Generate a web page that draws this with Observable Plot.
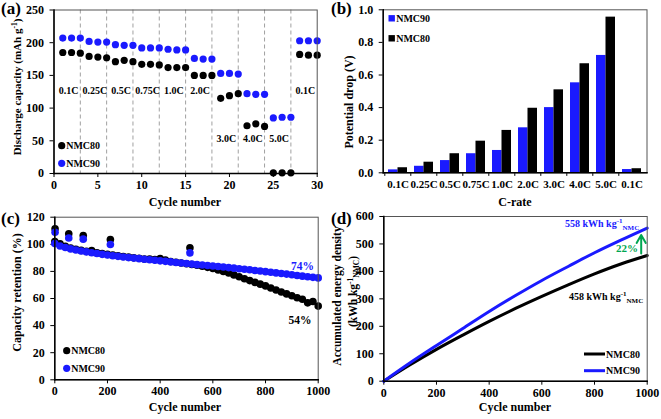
<!DOCTYPE html>
<html><head><meta charset="utf-8">
<script src="https://cdn.jsdelivr.net/npm/d3@7"></script>
<script src="https://cdn.jsdelivr.net/npm/@observablehq/plot@0.6"></script>
<style>
body{margin:0;background:#fff;}
#wrap{position:relative;width:661px;height:419px;overflow:hidden;background:#fff;}
#wrap > div{position:absolute;}
#wrap svg{overflow:visible;}
</style></head><body><div id="wrap"></div>
<script>
// ---------- (a) rate capability ----------
const cyclesA = [1,2,3,4,5,6,7,8,9,10,11,12,13,14,15,16,17,18,19,20,21,22,23,24,25,26,27,28,29,30];
const capNMC80 = [185,185,184,179,178,177,171,173,171,167,167,166,162,162,162,150,150,150,115,119,122,73,76,72,1,1,1,182,181,181];
const capNMC90 = [207,207,207,202,201,201,197,196,196,192,192,192,190,189,189,176,175,175,153,153,152,122,121,121,85,86,86,203,203,203];
const rateLabelsA = ["0.1C","0.25C","0.5C","0.75C","1.0C","2.0C","3.0C","4.0C","5.0C","0.1C"];
const rateStepEnds = [3,6,9,12,15,18,21,24,27];
const ticksAx = [0,5,10,15,20,25,30];
const ticksAy = [0,50,100,150,200,250];

// ---------- (b) potential drop ----------
const rateLabelsB = ["0.1C","0.25C","0.5C","0.75C","1.0C","2.0C","3.0C","4.0C","5.0C","0.1C"];
const dropNMC90 = [0.018,0.040,0.075,0.117,0.137,0.276,0.400,0.552,0.720,0.020];
const dropNMC80 = [0.031,0.065,0.117,0.194,0.260,0.396,0.509,0.669,0.955,0.025];
const ticksBy = [0,0.2,0.4,0.6,0.8,1.0];

// ---------- (c) capacity retention ----------
const cyclesC = [0,20,40,60,80,100,120,140,160,180,200,220,240,260,280,300,320,340,360,380,400,420,440,460,480,500,520,540,560,580,600,620,640,660,680,700,720,740,760,780,800,820,840,860,880,900,920,940,960,980,1000];
const retNMC90 = [100.5,98.8,97.6,96.6,95.8,95.1,94.4,93.8,93.2,92.6,92.1,91.6,91.1,90.6,90.2,89.8,89.4,89.0,88.6,88.2,87.8,87.4,87.0,86.6,86.2,85.8,85.4,85.0,84.7,84.3,84.0,83.6,83.2,82.8,82.4,82.0,81.6,81.2,80.7,80.3,79.8,79.4,78.9,78.5,78.0,77.5,77.0,76.5,76.0,75.6,75.2];
const retNMC80 = [102.0,100.3,98.6,97.3,96.3,95.5,94.8,95.3,93.8,93.1,92.6,92.0,91.5,91.0,90.6,90.1,89.7,89.2,89.1,88.7,89.4,88.4,87.3,86.7,86.2,85.7,85.1,84.5,83.8,83.0,82.1,81.1,80.0,78.8,77.4,76.0,74.6,73.2,71.9,70.6,69.3,67.8,66.3,64.8,63.4,62.0,60.6,59.5,56.8,57.8,54.4];
const spikeCycles = [1,53,108,211,513];
const spikeNMC80 = [111.4,107.7,106.5,103.5,97.4];
const spikeNMC90 = [108.9,104.7,103.8,99.8,93.7];
const ticksCx = [0,200,400,600,800,1000];
const ticksCy = [0,20,40,60,80,100,120];

// ---------- (d) accumulated energy density ----------
const cyclesD = [0,100,200,300,400,500,600,700,800,900,1000];
const energyNMC90 = [0,67,130,192,254,312,367,418,468,514,558];
const energyNMC80 = [0,60,116,168,218,265,309,351,391,427,458];
const ticksDx = [0,200,400,600,800,1000];
const ticksDy = [0,100,200,300,400,500,600];

const BLUE = "#1a1aff";
const GREEN = "#00a651";
const FONT = "'Liberation Serif','Times New Roman',serif";
const baseStyle = {fontFamily: FONT, fontWeight: "bold", fontSize: "12px", color: "#000", background: "transparent", overflow: "visible"};
const wrap = document.getElementById("wrap");

function mount(svg, left, top) {
  const d = document.createElement("div");
  d.style.left = left + "px"; d.style.top = top + "px";
  d.appendChild(svg); wrap.appendChild(d); return svg;
}
function addText(svg, x, y, parts, o = {}) {
  const t = d3.select(svg).append("text")
    .attr("transform", `translate(${x},${y}) rotate(${o.rotate || 0})`)
    .attr("text-anchor", o.anchor || "start")
    .attr("font-family", FONT).attr("font-weight", "bold")
    .attr("font-size", o.size || 12).attr("fill", o.fill || "#000");
  for (const p of parts) {
    if (typeof p === "string") t.append("tspan").text(p);
    else t.append("tspan").attr("font-size", p.size).attr("dy", p.dy).text(p.t);
  }
  return t;
}
function legendDot(svg, x, y, color, label, symbol) {
  const g = d3.select(svg);
  if (symbol === "square") g.append("rect").attr("x", x - 3.2).attr("y", y - 3.2).attr("width", 6.4).attr("height", 6.4).attr("fill", color);
  else g.append("circle").attr("cx", x).attr("cy", y).attr("r", 3.6).attr("fill", color);
  addText(svg, x + 4.5, y + 3.6, [label], {size: 10});
}
function legendLine(svg, x1, x2, y, color, label) {
  d3.select(svg).append("line").attr("x1", x1).attr("x2", x2).attr("y1", y).attr("y2", y).attr("stroke", color).attr("stroke-width", 3);
  addText(svg, x2 + 1, y + 3.6, [label], {size: 10});
}
function frames() {
  return [
    Plot.frame({stroke: "#555", strokeWidth: 1}),
    Plot.frame({anchor: "left", stroke: "#000", strokeWidth: 1.5}),
    Plot.frame({anchor: "bottom", stroke: "#000", strokeWidth: 1.5})
  ];
}

// ===== (a) =====
const svgA = mount(Plot.plot({
  width: 330, height: 210, marginLeft: 53.5, marginRight: 13.3, marginTop: 9.5, marginBottom: 37,
  style: baseStyle,
  x: {domain: [0, 30], ticks: ticksAx, tickSize: 4, tickPadding: 3, label: null},
  y: {domain: [0, 250], ticks: ticksAy, tickSize: 4, tickPadding: 6, label: null},
  marks: [
    Plot.ruleX(rateStepEnds, {stroke: "#a0a0a0", strokeDasharray: "4,3"}),
    Plot.dot(cyclesA, {x: d => d, y: (d, i) => capNMC80[i], r: 3.6, fill: "#000"}),
    Plot.dot(cyclesA, {x: d => d, y: (d, i) => capNMC90[i], r: 3.6, fill: BLUE}),
    Plot.text(rateLabelsA, {
      x: (d, i) => d3.mean(cyclesA.slice(3 * i, 3 * i + 3)),
      y: (d, i) => (i >= 6 && i <= 8) ? 53 : 127,
      text: d => d, dx: -3, fontSize: 10
    }),
    ...frames()
  ]
}), 0, 0);
addText(svgA, 1, 14, ["(a)"], {size: 17});
addText(svgA, 20.5, 87, ["Discharge capacity (mAh g", {t: "-1", size: 7.5, dy: -4}, {t: ")", size: 11, dy: 4}], {rotate: -90, anchor: "middle", size: 11});
addText(svgA, 185, 206, ["Cycle number"], {anchor: "middle", size: 12});
legendDot(svgA, 61.7, 145.7, "#000", "NMC80");
legendDot(svgA, 61.7, 163.3, BLUE, "NMC90");

// ===== (b) =====
const idxB = rateLabelsB.map((d, i) => i);
const wB = 331, mlB = 52.7, mrB = 14.5;
const stepB = (wB - mlB - mrB) / idxB.length;
const bwB = stepB * 0.72;
const svgB = mount(Plot.plot({
  width: wB, height: 210, marginLeft: mlB, marginRight: mrB, marginTop: 9.3, marginBottom: 37.7,
  style: baseStyle,
  x: {type: "band", domain: idxB, paddingInner: 0.28, paddingOuter: 0.14, tickSize: 0, tickPadding: 7, tickFormat: i => rateLabelsB[i], label: null},
  y: {domain: [0, 1], ticks: ticksBy, tickFormat: ".1f", tickSize: 4, tickPadding: 6, label: null},
  marks: [
    Plot.barY(idxB, {x: d => d, y: (d, i) => dropNMC90[i], fill: BLUE, insetRight: bwB / 2}),
    Plot.barY(idxB, {x: d => d, y: (d, i) => dropNMC80[i], fill: "#000", insetLeft: bwB / 2}),
    Plot.ruleX(idxB, {x: d => d, y1: 0, y2: -0.022, dx: -stepB / 2, stroke: "#000"}),
    ...frames()
  ]
}), 330, 0);
d3.select(svgB).selectAll("[aria-label='x-axis tick label'] text").attr("font-size", 11);
addText(svgB, 1, 14, ["(b)"], {size: 17});
addText(svgB, 23, 102, ["Potential drop (V)"], {rotate: -90, anchor: "middle", size: 12});
addText(svgB, 185, 206, ["C-rate"], {anchor: "middle", size: 12});
legendDot(svgB, 61.7, 18.3, BLUE, "NMC90", "square");
legendDot(svgB, 61.7, 38.3, "#000", "NMC80", "square");

// ===== (c) =====
const svgC = mount(Plot.plot({
  width: 330, height: 214, marginLeft: 54.3, marginRight: 12.3, marginTop: 11.7, marginBottom: 39.7,
  style: baseStyle,
  x: {domain: [0, 1000], ticks: ticksCx, tickFormat: "d", tickSize: 4, tickPadding: 3, label: null},
  y: {domain: [0, 120], ticks: ticksCy, tickSize: 4, tickPadding: 6, label: null},
  marks: [
    Plot.dot(cyclesC, {x: d => d, y: (d, i) => retNMC80[i], r: 3.8, fill: "#000"}),
    Plot.dot(cyclesC, {x: d => d, y: (d, i) => retNMC90[i], r: 3.8, fill: BLUE}),
    Plot.dot(spikeCycles, {x: d => d, y: (d, i) => spikeNMC80[i], r: 3.8, fill: "#000"}),
    Plot.dot(spikeCycles, {x: d => d, y: (d, i) => spikeNMC90[i], r: 3.8, fill: BLUE}),
    ...frames()
  ]
}), 0, 205);
addText(svgC, 1, 19, ["(c)"], {size: 17});
addText(svgC, 21, 87.5, ["Capacity retention (%)"], {rotate: -90, anchor: "middle", size: 12});
addText(svgC, 185, 206, ["Cycle number"], {anchor: "middle", size: 12});
addText(svgC, 302.5, 64.7, ["74%"], {anchor: "middle", size: 11.5, fill: BLUE});
addText(svgC, 300, 119, ["54%"], {anchor: "middle", size: 11.5});
legendDot(svgC, 66.7, 145.7, "#000", "NMC80");
legendDot(svgC, 66.7, 163.3, BLUE, "NMC90");

// ===== (d) =====
const lastD = cyclesD.length - 1;
const svgD = mount(Plot.plot({
  width: 331, height: 214, marginLeft: 53.3, marginRight: 14.3, marginTop: 11, marginBottom: 38.3,
  style: baseStyle,
  x: {domain: [0, 1000], ticks: ticksDx, tickFormat: "d", tickSize: 4, tickPadding: 3, label: null},
  y: {domain: [0, 600], ticks: ticksDy, tickSize: 4, tickPadding: 6, label: null},
  marks: [
    Plot.line(cyclesD, {x: d => d, y: (d, i) => energyNMC80[i], stroke: "#000", strokeWidth: 3, curve: "monotone-x"}),
    Plot.line(cyclesD, {x: d => d, y: (d, i) => energyNMC90[i], stroke: BLUE, strokeWidth: 3, curve: "monotone-x"}),
    Plot.arrow([lastD], {
      x1: i => cyclesD[i], y1: i => energyNMC80[i], x2: i => cyclesD[i], y2: i => energyNMC90[i],
      dx: -6, insetStart: 2, insetEnd: 7, stroke: GREEN, strokeWidth: 2, headLength: 7
    }),
    ...frames()
  ]
}), 330, 205);
addText(svgD, 1, 19, ["(d)"], {size: 17});
addText(svgD, 10.5, 91, ["Accumulated energy density"], {rotate: -90, anchor: "middle", size: 11.5});
addText(svgD, 26.5, 86.5, ["(kWh kg", {t: "-1", size: 7.5, dy: -4}, {t: "NMC", size: 7.5, dy: 6}, {t: ")", size: 11.5, dy: -2}], {rotate: -90, anchor: "middle", size: 11.5});
addText(svgD, 185, 206, ["Cycle number"], {anchor: "middle", size: 12});
addText(svgD, 235, 22, ["558 kWh kg", {t: "-1", size: 7, dy: -4}, {t: "NMC", size: 7, dy: 7}], {size: 10, fill: BLUE});
addText(svgD, 239, 95, ["458 kWh kg", {t: "-1", size: 7, dy: -4}, {t: "NMC", size: 7, dy: 7}], {size: 10});
addText(svgD, 297, 47, ["22%"], {anchor: "middle", size: 11, fill: GREEN});
legendLine(svgD, 254, 275, 149, "#000", "NMC80");
legendLine(svgD, 254, 275, 165.7, BLUE, "NMC90");
</script></body></html>
